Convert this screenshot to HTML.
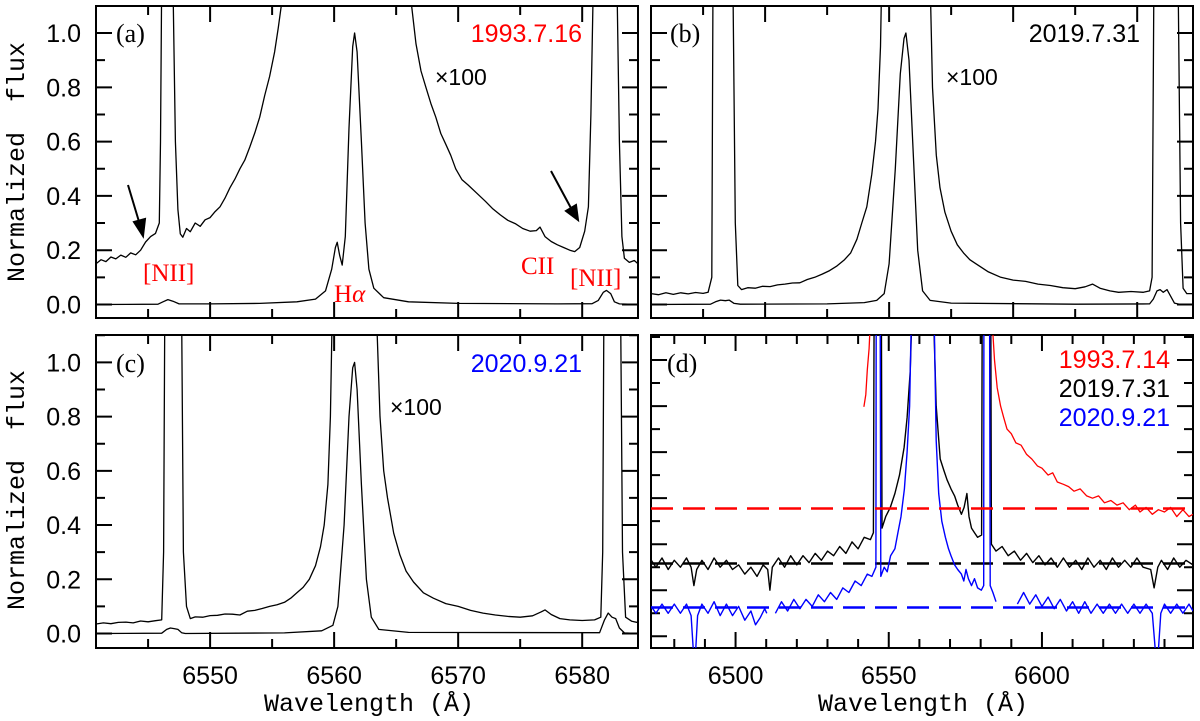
<!DOCTYPE html>
<html><head><meta charset="utf-8"><style>
html,body{margin:0;padding:0;background:#fff;}
svg{display:block;}
text{font-family:"Liberation Sans",sans-serif;}
</style></head><body>
<svg id="fig" width="1200" height="721" viewBox="0 0 1200 721" xmlns="http://www.w3.org/2000/svg">
<defs>
<clipPath id="clipA"><rect x="96" y="6" width="542" height="312"/></clipPath>
<clipPath id="clipB"><rect x="651" y="6" width="542" height="312"/></clipPath>
<clipPath id="clipC"><rect x="96" y="335" width="542" height="313"/></clipPath>
<clipPath id="clipD"><rect x="651" y="335" width="542" height="313"/></clipPath>
</defs>
<g id="axes"></g>
<g id="marks"></g>
<g id="labels">
<text x="24" y="162" transform="rotate(-90 24 162)" text-anchor="middle" style="font-family:'Liberation Mono',monospace;font-size:25px;white-space:pre">Normalized  flux</text>
<text x="24" y="490" transform="rotate(-90 24 490)" text-anchor="middle" style="font-family:'Liberation Mono',monospace;font-size:25px;white-space:pre">Normalized  flux</text>
<text x="369" y="711" text-anchor="middle" style="font-family:'Liberation Mono',monospace;font-size:25px">Wavelength (Å)</text>
<text x="923" y="711" text-anchor="middle" style="font-family:'Liberation Mono',monospace;font-size:25px">Wavelength (Å)</text>

<text x="116" y="42" style="font-family:'Liberation Serif',serif;font-size:26px">(a)</text>
<text x="582" y="42" text-anchor="end" fill="#ff0000" style="font-size:25px">1993.7.16</text>
<text x="435" y="85" style="font-size:23px">×100</text>
<text x="143" y="281" fill="#ff0000" style="font-family:'Liberation Serif',serif;font-size:25px">[NII]</text>
<text x="334" y="302" fill="#ff0000" style="font-family:'Liberation Serif',serif;font-size:25px">H<tspan font-style="italic">α</tspan></text>
<text x="521" y="274" fill="#ff0000" style="font-family:'Liberation Serif',serif;font-size:25px">CII</text>
<text x="570" y="286" fill="#ff0000" style="font-family:'Liberation Serif',serif;font-size:25px">[NII]</text>
<g stroke="#000" stroke-width="2" fill="#000">
<line x1="128" y1="185" x2="140" y2="225"/><polygon points="143,236 134,222 145,219"/></g>
<g stroke="#000" stroke-width="2" fill="#000">
<line x1="551" y1="171" x2="572" y2="210"/><polygon points="578,220 566,211 576,205"/></g>

<text x="670" y="42" style="font-family:'Liberation Serif',serif;font-size:26px">(b)</text>
<text x="1140" y="42" text-anchor="end" style="font-size:25px">2019.7.31</text>
<text x="946" y="85" style="font-size:23px">×100</text>

<text x="116" y="372" style="font-family:'Liberation Serif',serif;font-size:26px">(c)</text>
<text x="582" y="372" text-anchor="end" fill="#0000ff" style="font-size:25px">2020.9.21</text>
<text x="390" y="415" style="font-size:23px">×100</text>

<text x="667" y="372" style="font-family:'Liberation Serif',serif;font-size:26px">(d)</text>
<text x="1170" y="368" text-anchor="end" fill="#ff0000" style="font-size:25px">1993.7.14</text>
<text x="1170" y="397" text-anchor="end" fill="#000" style="font-size:25px">2019.7.31</text>
<text x="1170" y="426" text-anchor="end" fill="#0000ff" style="font-size:25px">2020.9.21</text>
</g>
</svg>
<script>
// ---------- Panel (a) 1993.7.16 ----------
const aNarrowWl = [6540.8,6545.8,6546.2,6546.6,6547.0,6547.5,6550,6554,6557,6558.5,6559.3,6559.8,6560.1,6560.25,6560.45,6560.65,6560.9,6561.2,6561.5,6561.65,6561.85,6562.2,6562.5,6562.8,6563.2,6564,6566,6570,6578,6580.8,6581.3,6581.7,6581.95,6582.3,6582.6,6583,6584.5];
const aNarrowFlux = [0,0.001,0.01,0.018,0.012,0.002,0.002,0.004,0.01,0.02,0.05,0.13,0.21,0.229,0.18,0.145,0.25,0.65,0.95,1.0,0.93,0.6,0.3,0.13,0.06,0.025,0.01,0.004,0.002,0.003,0.015,0.045,0.052,0.04,0.01,0.002,0];
const aWideWl = [6540.8,6541.2,6541.6,6542.0,6542.4,6542.8,6543.2,6543.6,6544.0,6544.4,6544.8,6545.2,6545.6,6545.9,6546.0,6546.1,6547.0,6547.2,6547.4,6547.6,6547.8,6548.1,6548.4,6548.8,6549.2,6549.6,6550.0,6550.4,6550.8,6551.2,6551.6,6552.0,6552.4,6552.8,6553.2,6553.6,6554.0,6554.4,6554.8,6555.2,6555.5,6555.8,
 6566.2,6566.6,6567.0,6567.4,6567.8,6568.2,6568.6,6569.0,6569.4,6569.8,6570.3,6570.8,6571.5,6572.2,6572.8,6573.4,6574.0,6574.6,6575.2,6575.8,6576.3,6576.6,6577.0,6577.5,6578.0,6578.5,6579.0,6579.4,6579.8,6580.2,6580.5,6580.7,6580.9,6582.8,6583.0,6583.2,6583.4,6583.8,6584.2,6584.5];
const aWideFlux = [0.15,0.165,0.158,0.175,0.168,0.182,0.174,0.19,0.183,0.2,0.23,0.25,0.262,0.3,0.6,1.2,1.2,0.6,0.35,0.26,0.248,0.28,0.268,0.3,0.288,0.312,0.32,0.342,0.36,0.392,0.43,0.462,0.5,0.532,0.58,0.632,0.69,0.77,0.84,0.93,1.02,1.12,
 1.12,0.96,0.86,0.8,0.74,0.69,0.63,0.59,0.55,0.5,0.46,0.44,0.41,0.38,0.352,0.33,0.31,0.298,0.28,0.27,0.272,0.285,0.25,0.232,0.22,0.21,0.2,0.195,0.21,0.27,0.36,0.7,1.2,1.2,0.6,0.25,0.17,0.155,0.162,0.15];
// ---------- Panel (b) 2019.7.31 ----------
const bNarrowWl = [6540.8,6545.6,6546.0,6546.4,6546.8,6547.1,6547.5,6548,6555,6558,6559,6559.6,6560.0,6560.5,6560.9,6561.2,6561.35,6561.6,6561.9,6562.3,6562.7,6563.3,6565,6575,6581.0,6581.3,6581.6,6581.85,6582.1,6582.4,6582.7,6583.0,6583.5,6584.5];
const bNarrowFlux = [0,0.001,0.01,0.016,0.014,0.016,0.004,0.001,0.002,0.007,0.015,0.04,0.15,0.5,0.85,0.98,1.0,0.9,0.6,0.2,0.05,0.015,0.005,0.001,0.002,0.02,0.05,0.055,0.045,0.055,0.03,0.005,0,0];
const bWideWl = [6540.8,6541.4,6542,6542.6,6543.2,6543.8,6544.4,6545,6545.4,6545.7,6545.8,6547.4,6547.6,6547.8,6548.1,6548.6,6549.2,6549.8,6550.4,6551.0,6551.6,6552.2,6552.8,6553.4,6554.0,6554.6,6555.2,6555.8,6556.4,6556.9,6557.4,6557.8,6558.2,6558.6,6558.9,6559.1,6559.3,6559.4,
 6563.3,6563.5,6563.8,6564.1,6564.5,6565.0,6565.5,6566.0,6566.5,6567.0,6568.0,6569.0,6570.0,6571.0,6572.0,6573.0,6574.0,6575.0,6575.8,6576.4,6577.0,6577.8,6578.5,6579.5,6580.5,6581.0,6581.2,6581.35,6583.3,6583.5,6583.7,6584.0,6584.5];
const bWideFlux = [0.04,0.036,0.043,0.037,0.043,0.039,0.044,0.041,0.045,0.1,1.2,1.2,0.3,0.07,0.055,0.062,0.06,0.067,0.066,0.072,0.075,0.079,0.08,0.092,0.1,0.112,0.125,0.142,0.165,0.19,0.24,0.3,0.36,0.48,0.6,0.72,0.95,1.2,
 1.2,0.8,0.55,0.43,0.34,0.27,0.22,0.19,0.165,0.15,0.12,0.1,0.09,0.085,0.075,0.07,0.062,0.058,0.065,0.075,0.06,0.05,0.045,0.048,0.045,0.05,0.1,1.2,1.2,0.3,0.06,0.04,0.04];
// ---------- Panel (c) 2020.9.21 ----------
const cNarrowWl = [6540.8,6546.1,6546.5,6546.8,6547.1,6547.4,6547.7,6548,6556,6559,6559.9,6560.3,6560.8,6561.2,6561.5,6561.65,6561.85,6562.2,6562.6,6563.0,6563.6,6566,6581.4,6581.8,6582.1,6582.4,6582.7,6583.0,6583.4,6584.5];
const cNarrowFlux = [0,0.001,0.015,0.02,0.018,0.015,0.003,0,0.002,0.01,0.03,0.1,0.4,0.8,0.98,1.0,0.9,0.55,0.2,0.06,0.015,0.004,0.003,0.05,0.075,0.06,0.055,0.02,0.002,0];
const cWideWl = [6540.8,6541.4,6542,6542.6,6543.2,6543.8,6544.4,6545,6545.6,6546.1,6546.25,6546.35,6547.7,6547.85,6548.1,6548.4,6548.8,6549.4,6550,6550.6,6551.2,6551.8,6552.4,6553.0,6553.6,6554.2,6554.8,6555.4,6556.0,6556.5,6557.0,6557.5,6558.0,6558.5,6558.9,6559.2,6559.5,6559.7,6559.85,
 6563.4,6563.7,6564.0,6564.3,6564.8,6565.3,6565.8,6566.4,6567.2,6568.0,6569.0,6570.0,6571.0,6572.0,6573.0,6574.0,6575.0,6576.0,6576.7,6577.0,6577.5,6578.2,6579.0,6580.0,6581.0,6581.5,6581.65,6581.75,6583.1,6583.25,6583.5,6584.0,6584.5];
const cWideFlux = [0.035,0.039,0.036,0.041,0.042,0.039,0.046,0.043,0.047,0.05,0.3,1.2,1.2,0.3,0.1,0.055,0.061,0.06,0.066,0.067,0.072,0.071,0.068,0.082,0.085,0.092,0.1,0.106,0.115,0.13,0.15,0.17,0.2,0.25,0.32,0.4,0.55,0.8,1.2,
 1.2,0.8,0.6,0.5,0.37,0.29,0.23,0.19,0.15,0.13,0.11,0.1,0.085,0.075,0.068,0.063,0.06,0.065,0.08,0.087,0.07,0.055,0.05,0.048,0.05,0.06,0.3,1.2,1.2,0.3,0.06,0.045,0.04];
// ---------- Panel (d) comparison ----------
const dBlackWl = [6472.5,6474,6476,6478,6480,6482,6484,6485.5,6486.4,6487.3,6489,6491,6493,6495,6497,6499,6501,6503,6505,6507,6509,6510.5,6511.2,6512,6514,6516,6518,6520,6522,6524,6526,6528,6530,6532,6534,6536,6538,6540,6542,6544,6545,6545.2,6547.6,6547.8,6549,6550.5,6552,6553.5,6555,6556,6557,6557.6,
 6564.6,6565.5,6566.8,6568,6569,6570.3,6571.5,6572.5,6573.7,6574.6,6575.5,6576.2,6577,6578,6579,6580.3,6580.5,6583.3,6583.5,6585,6587,6589,6591,6593,6595,6597,6599,6601,6603,6605,6607,6609,6611,6613,6615,6617,6619,6621,6623,6625,6627,6629,6631,6633,6635.5,6636.6,6637.8,6639,6641,6643,6645,6647,6649.3];
const dBlackFlux = [0.33,0.30,0.34,0.29,0.33,0.30,0.34,0.30,0.22,0.29,0.33,0.29,0.34,0.30,0.33,0.29,0.31,0.27,0.30,0.26,0.31,0.29,0.20,0.30,0.34,0.30,0.35,0.31,0.35,0.32,0.36,0.33,0.37,0.35,0.39,0.36,0.41,0.38,0.43,0.42,0.45,1.4,1.4,0.47,0.52,0.56,0.62,0.70,0.82,0.95,1.15,1.4,
 1.4,1.0,0.77,0.72,0.68,0.64,0.61,0.57,0.53,0.56,0.62,0.52,0.47,0.45,0.43,0.44,1.4,1.4,0.40,0.37,0.39,0.35,0.37,0.33,0.36,0.32,0.35,0.31,0.34,0.30,0.34,0.30,0.33,0.29,0.34,0.30,0.33,0.29,0.34,0.30,0.33,0.30,0.34,0.30,0.29,0.21,0.30,0.33,0.29,0.34,0.30,0.33,0.31];
const dBlueWl = [6472.5,6474,6476,6478,6480,6482,6484,6485.5,6486.2,6487,6487.6,6489,6491,6493,6495,6497,6499,6501,6503,6505,6506.5,6508,6509.5,6510.2,6511.5,6513,6515,6517,6519,6521,6523,6525,6527,6529,6531,6533,6535,6537,6539,6541,6543,6544.5,6545.8,6545.9,6547.2,6547.4,6548.5,6549.5,6550.6,6552,6553,6554,6555.1,6556,6556.8,6557.4,
 6564.8,6565.5,6566.3,6567.3,6568.5,6569.5,6570.3,6571.5,6572.5,6573.7,6574.5,6575.2,6576,6577,6578,6579,6580.2,6581,6581.05,6582.9,6583.1,6584,6585,6591,6592,6594,6596,6598,6600,6602,6604,6606,6608,6610,6612,6614,6616,6618,6620,6622,6624,6626,6628,6630,6632,6634,6636,6637,6638,6638.8,6640,6642,6644,6646,6648,6649.3];
const dBlueFlux = [0.13,0.10,0.14,0.10,0.14,0.10,0.14,0.09,-0.06,-0.06,0.09,0.14,0.10,0.15,0.09,0.14,0.09,0.13,0.07,0.11,0.05,0.08,0.12,0.10,null,0.10,0.15,0.11,0.16,0.12,0.16,0.13,0.18,0.15,0.19,0.16,0.21,0.19,0.24,0.22,0.27,0.26,0.30,1.4,1.4,0.26,0.30,0.28,0.35,0.38,0.45,0.52,0.64,0.80,1.0,1.4,
 1.4,0.85,0.62,0.50,0.43,0.38,0.35,0.31,0.29,0.27,0.24,0.29,0.25,0.22,0.25,0.21,0.20,0.22,1.4,1.4,0.22,0.19,0.15,null,0.14,0.19,0.14,0.18,0.13,0.17,0.12,0.16,0.11,0.15,0.10,0.15,0.10,0.14,0.10,0.14,0.10,0.14,0.10,0.14,0.10,0.14,0.10,-0.06,-0.06,0.10,0.14,0.10,0.14,0.10,0.14,0.11];
const dRedWl = [6541.9,6542.5,6543,6543.6,6544.1,6583.6,6584.5,6585.4,6586.5,6587.5,6588.6,6590,6591.5,6593.2,6595,6596.7,6598.5,6600,6602,6603.5,6605,6607,6608.7,6610.5,6612.5,6614.6,6616.5,6618.5,6620.4,6622.5,6624.5,6626.5,6628.5,6630.5,6632,6634,6636,6638,6640,6642,6644,6646,6648,6649.3];
const dRedFlux = [0.997,1.05,1.157,1.25,1.4,1.4,1.2,1.08,1.0,0.95,0.90,0.88,0.84,0.83,0.79,0.77,0.74,0.73,0.70,0.71,0.67,0.66,0.65,0.63,0.64,0.61,0.60,0.61,0.58,0.59,0.57,0.58,0.55,0.57,0.54,0.56,0.53,0.55,0.54,0.56,0.52,0.55,0.52,0.53];
const dLevelNames = ["1993","2019","2020"];
const dLevels = [0.555,0.316,0.125];
// tick label arrays
const yTickLabels = ["0.0","0.2","0.4","0.6","0.8","1.0"];
const xTickLabelsC = ["6550","6560","6570","6580"];
const xTickLabelsD = ["6500","6550","6600"];

const NS="http://www.w3.org/2000/svg";
const axesG=document.getElementById('axes');
const marksG=document.getElementById('marks');
function mk(tag,attrs,parent){const e=document.createElementNS(NS,tag);for(const k in attrs)e.setAttribute(k,attrs[k]);parent.appendChild(e);return e;}

const P={
 a:{x0:96,x1:638,y0:6,y1:318,xmin:6540.8,xmax:6584.5,ymin:-0.0498,ymax:1.0996,clip:'clipA'},
 b:{x0:651,x1:1193,y0:6,y1:318,xmin:6540.8,xmax:6584.5,ymin:-0.0498,ymax:1.0996,clip:'clipB'},
 c:{x0:96,x1:638,y0:335,y1:648,xmin:6540.8,xmax:6584.5,ymin:-0.0536,ymax:1.101,clip:'clipC'},
 d:{x0:651,x1:1193,y0:335,y1:648,xmin:6472.4,xmax:6649.3,ymin:-0.0509,ymax:1.3087,clip:'clipD'}
};
function sx(p,v){return p.x0+(v-p.xmin)/(p.xmax-p.xmin)*(p.x1-p.x0);}
function sy(p,v){return p.y1-(v-p.ymin)/(p.ymax-p.ymin)*(p.y1-p.y0);}

function drawAxes(key,xMaj,xMin,yMaj,yMin,xLabels,yLabels){
 const p=P[key];
 const frame=mk('rect',{x:p.x0,y:p.y0,width:p.x1-p.x0,height:p.y1-p.y0,fill:'none',stroke:'#000','stroke-width':2},axesG);
 
 
 let d='';
 for(let v=Math.ceil(p.xmin/xMin)*xMin; v<=p.xmax; v+=xMin){
  const isMaj=Math.abs(v/xMaj-Math.round(v/xMaj))<1e-6; const L=isMaj?16:9; const x=sx(p,v);
  d+=`M${x},${p.y1}v${-L}M${x},${p.y0}v${L}`;
 }
 for(let i=Math.ceil(p.ymin/yMin-1e-9); i*yMin<=p.ymax; i++){
  const v=i*yMin; const isMaj=Math.abs(v/yMaj-Math.round(v/yMaj))<1e-6; const L=isMaj?16:9; const y=sy(p,v);
  d+=`M${p.x0},${y}h${L}M${p.x1},${y}h${-L}`;
 }
 const t=mk('path',{d:d,stroke:'#000','stroke-width':2,fill:'none'},axesG);
 
 
 if(yLabels){yLabels.forEach(s=>{const e=mk('text',{x:p.x0-15,y:sy(p,parseFloat(s))+9,'text-anchor':'end','font-size':25},axesG);e.textContent=s;
  
  });}
 if(xLabels){xLabels.forEach(s=>{const e=mk('text',{x:sx(p,parseFloat(s)),y:684,'text-anchor':'middle','font-size':25},axesG);e.textContent=s;
  
  });}
}
drawAxes('a',10,5,0.2,0.1,null,yTickLabels);
drawAxes('b',10,5,0.2,0.1,null,null);
drawAxes('c',10,5,0.2,0.1,xTickLabelsC,yTickLabels);
drawAxes('d',50,10,0.2,0.1,xTickLabelsD,null);

function pathFrom(p,wl,fl){
 let d='',pen=false;
 for(let i=0;i<wl.length;i++){
  if(fl[i]===null){pen=false;continue;}
  d+=(pen?'L':'M')+sx(p,wl[i]).toFixed(1)+','+sy(p,fl[i]).toFixed(1);pen=true;
 }
 return d;
}
function series(key,wl,fl,color,w,name){
 const p=P[key];
 const g=mk('g',{'clip-path':`url(#${p.clip})`},marksG);
 const e=mk('path',{d:pathFrom(p,wl,fl),stroke:color,'stroke-width':w,fill:'none','stroke-linejoin':'round'},g);
 
 
}
function level(key,v,color,name){
 const p=P[key];
 const e=mk('line',{x1:p.x0,x2:p.x1,y1:sy(p,v),y2:sy(p,v),stroke:color,'stroke-width':2.5,'stroke-dasharray':'22,10'},marksG);
 
 
}
series('a',aWideWl,aWideFlux,'#000',1.3,'spectrum-a-x100');
series('a',aNarrowWl,aNarrowFlux,'#000',1.3,'spectrum-a');
series('b',bWideWl,bWideFlux,'#000',1.3,'spectrum-b-x100');
series('b',bNarrowWl,bNarrowFlux,'#000',1.3,'spectrum-b');
series('c',cWideWl,cWideFlux,'#000',1.3,'spectrum-c-x100');
series('c',cNarrowWl,cNarrowFlux,'#000',1.3,'spectrum-c');
level('d',dLevels[1],'#000','continuum-level-'+dLevelNames[1]);
series('d',dBlackWl,dBlackFlux,'#000',1.4,'spectrum-d-2019');
level('d',dLevels[2],'#0000ff','continuum-level-'+dLevelNames[2]);
series('d',dBlueWl,dBlueFlux,'#0000ff',1.4,'spectrum-d-2020');
level('d',dLevels[0],'#ff0000','continuum-level-'+dLevelNames[0]);
series('d',dRedWl,dRedFlux,'#ff0000',1.3,'spectrum-d-1993');
</script>
</body></html>
